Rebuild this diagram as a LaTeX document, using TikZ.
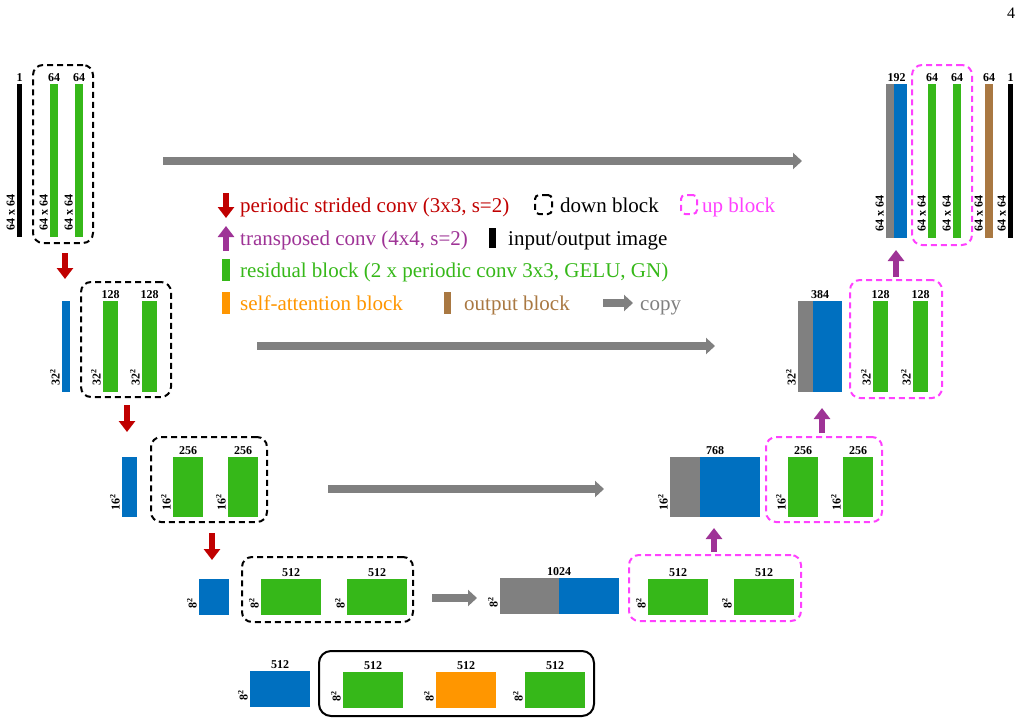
\documentclass[tikz,border=0pt]{standalone}
\usepackage{fontspec}
\setmainfont{Liberation Serif}
\usetikzlibrary{arrows.meta,fit}

\definecolor{cgreen}{HTML}{36B819}
\definecolor{cblue}{HTML}{0070C0}
\definecolor{cgray}{HTML}{808080}
\definecolor{cbrown}{HTML}{A97842}
\definecolor{corange}{HTML}{FF9600}
\definecolor{cmag}{HTML}{FF40FF}
\definecolor{cred}{HTML}{C00000}
\definecolor{cpurple}{HTML}{9E3396}

\tikzset{
 blk/.style={inner sep=0pt, outer sep=0pt, draw=none},
 num/.style={font=\fontsize{12}{13}\selectfont\bfseries, inner sep=0pt},
 dimlab/.style={num, rotate=90, anchor=south west},
 toplab/.style={num, anchor=base},
 downbox/.style={draw=black, dash pattern=on 6pt off 4pt, line width=2pt, rounded corners=10pt, inner sep=0pt},
 upbox/.style={downbox, draw=cmag},
 corebox/.style={draw=black, line width=2pt, rounded corners=12pt, inner sep=0pt},
 copyarrow/.style={draw=cgray, line width=8pt, -{Triangle[width=16pt,length=9pt]}},
 redarrow/.style={draw=cred, line width=6pt, -{Triangle[width=16pt,length=11pt]}},
 purparrow/.style={draw=cpurple, line width=6pt, -{Triangle[width=16pt,length=11pt]}},
 leg/.style={font=\fontsize{21}{24}\selectfont, anchor=base west, inner sep=0pt},
}
\newcommand\bk[6]{\node[blk, fill=#6, fit={(#2,#3) (#4,#5)}] (#1) {};}
\newcommand\tl[2]{\node[toplab] at ([yshift=3pt]#1.north) {#2};}
\newcommand\dl[2]{\node[dimlab] at ([xshift=-2pt,yshift=6pt]#1.south west) {#2};}

\begin{document}
\begin{tikzpicture}[x=1pt,y=-1pt]
\useasboundingbox (0,0) rectangle (1024,723);

\node[font=\fontsize{16}{18}\selectfont, anchor=base] (pg) at (1011,18) {4};

% ---------- encoder level 1 ----------
\bk{in}{17}{84}{22}{237}{black}
\bk{d1a}{50}{84}{58}{237}{cgreen}
\bk{d1b}{75}{84}{83}{237}{cgreen}
\node[downbox, fit={(33,65) (93,243)}] (D1) {};
\tl{in}{1}\tl{d1a}{64}\tl{d1b}{64}
\dl{in}{64 x 64}\dl{d1a}{64 x 64}\dl{d1b}{64 x 64}

% ---------- encoder level 2 ----------
\bk{b2}{62}{301}{70}{392}{cblue}
\bk{d2a}{103}{301}{118}{392}{cgreen}
\bk{d2b}{142}{301}{157}{392}{cgreen}
\node[downbox, fit={(81,282) (171,397)}] (D2) {};
\tl{d2a}{128}\tl{d2b}{128}
\dl{b2}{32\textsuperscript{2}}\dl{d2a}{32\textsuperscript{2}}\dl{d2b}{32\textsuperscript{2}}

% ---------- encoder level 3 ----------
\bk{b3}{122}{457}{137}{517}{cblue}
\bk{d3a}{173}{457}{203}{517}{cgreen}
\bk{d3b}{228}{457}{258}{517}{cgreen}
\node[downbox, fit={(151,437) (267,522)}] (D3) {};
\tl{d3a}{256}\tl{d3b}{256}
\dl{b3}{16\textsuperscript{2}}\dl{d3a}{16\textsuperscript{2}}\dl{d3b}{16\textsuperscript{2}}

% ---------- encoder level 4 ----------
\bk{b4}{199}{579}{229}{615}{cblue}
\bk{d4a}{261}{579}{321}{615}{cgreen}
\bk{d4b}{347}{579}{407}{615}{cgreen}
\node[downbox, fit={(242,557) (413,622)}] (D4) {};
\tl{d4a}{512}\tl{d4b}{512}
\dl{b4}{8\textsuperscript{2}}\dl{d4a}{8\textsuperscript{2}}\dl{d4b}{8\textsuperscript{2}}

% red down arrows
\coordinate (r1s) at (65,253); \coordinate (r1e) at (65,279);
\coordinate (r2s) at (127,405); \coordinate (r2e) at (127,432);
\coordinate (r3s) at (212,533); \coordinate (r3e) at (212,560);
\draw[redarrow] (r1s) -- (r1e);
\draw[redarrow] (r2s) -- (r2e);
\draw[redarrow] (r3s) -- (r3e);

% ---------- decoder level 4 ----------
\bk{c4g}{500}{578}{559}{614}{cgray}
\bk{c4b}{559}{578}{619}{614}{cblue}
\node[toplab] at ([yshift=3pt]c4g.north east) {1024};
\dl{c4g}{8\textsuperscript{2}}
\bk{u4a}{648}{579}{708}{615}{cgreen}
\bk{u4b}{734}{579}{794}{615}{cgreen}
\node[upbox, fit={(629,555) (801,621)}] (U4) {};
\tl{u4a}{512}\tl{u4b}{512}
\dl{u4a}{8\textsuperscript{2}}\dl{u4b}{8\textsuperscript{2}}

% ---------- decoder level 3 ----------
\bk{c3g}{670}{457}{700}{517}{cgray}
\bk{c3b}{700}{457}{760}{517}{cblue}
\node[toplab] at ([yshift=3pt,xshift=15pt]c3g.north east) {768};
\dl{c3g}{16\textsuperscript{2}}
\bk{u3a}{788}{457}{818}{517}{cgreen}
\bk{u3b}{843}{457}{873}{517}{cgreen}
\node[upbox, fit={(766,437) (882,522)}] (U3) {};
\tl{u3a}{256}\tl{u3b}{256}
\dl{u3a}{16\textsuperscript{2}}\dl{u3b}{16\textsuperscript{2}}

% ---------- decoder level 2 ----------
\bk{c2g}{798}{301}{813}{392}{cgray}
\bk{c2b}{813}{301}{842}{392}{cblue}
\node[toplab] at ([yshift=3pt,xshift=7pt]c2g.north east) {384};
\dl{c2g}{32\textsuperscript{2}}
\bk{u2a}{873}{301}{888}{392}{cgreen}
\bk{u2b}{913}{301}{928}{392}{cgreen}
\node[upbox, fit={(850,280) (942,398)}] (U2) {};
\tl{u2a}{128}\tl{u2b}{128}
\dl{u2a}{32\textsuperscript{2}}\dl{u2b}{32\textsuperscript{2}}

% ---------- decoder level 1 ----------
\bk{c1g}{886}{84}{894}{238}{cgray}
\bk{c1b}{894}{84}{907}{238}{cblue}
\node[toplab] at ([yshift=3pt,xshift=2.5pt]c1g.north east) {192};
\dl{c1g}{64 x 64}
\bk{u1a}{928}{84}{936}{238}{cgreen}
\bk{u1b}{953}{84}{961}{238}{cgreen}
\node[upbox, fit={(912,65) (972,245)}] (U1) {};
\tl{u1a}{64}\tl{u1b}{64}
\dl{u1a}{64 x 64}\dl{u1b}{64 x 64}
\bk{ob}{985}{84}{993}{238}{cbrown}
\bk{out}{1008}{84}{1013}{238}{black}
\tl{ob}{64}\tl{out}{1}
\dl{ob}{64 x 64}\dl{out}{64 x 64}

% purple up arrows
\coordinate (p4s) at (714,552); \coordinate (p4e) at (714,528);
\coordinate (p3s) at (822,433); \coordinate (p3e) at (822,408);
\coordinate (p2s) at (896,277); \coordinate (p2e) at (896,250);
\draw[purparrow] (p4s) -- (p4e);
\draw[purparrow] (p3s) -- (p3e);
\draw[purparrow] (p2s) -- (p2e);

% copy arrows
\coordinate (k1s) at (163,161); \coordinate (k1e) at (802,161);
\coordinate (k2s) at (257,346); \coordinate (k2e) at (715,346);
\coordinate (k3s) at (328,489); \coordinate (k3e) at (604,489);
\coordinate (k4s) at (432,598); \coordinate (k4e) at (477,598);
\draw[copyarrow] (k1s) -- (k1e);
\draw[copyarrow] (k2s) -- (k2e);
\draw[copyarrow] (k3s) -- (k3e);
\draw[copyarrow] (k4s) -- (k4e);

% ---------- bottom: middle block ----------
\bk{mb}{250}{671}{310}{707}{cblue}
\bk{m1}{343}{672}{403}{708}{cgreen}
\bk{m2}{436}{672}{496}{708}{corange}
\bk{m3}{525}{672}{585}{708}{cgreen}
\node[corebox, fit={(319,651) (594,716)}] (MB) {};
\tl{mb}{512}\tl{m1}{512}\tl{m2}{512}\tl{m3}{512}
\dl{mb}{8\textsuperscript{2}}\dl{m1}{8\textsuperscript{2}}\dl{m2}{8\textsuperscript{2}}\dl{m3}{8\textsuperscript{2}}

% ---------- legend ----------
\coordinate (lr1) at (226,193); \coordinate (lr2) at (226,218);
\draw[redarrow] (lr1) -- (lr2);
\node[leg, text=cred] (t1) at (240,212) {periodic strided conv (3x3, s=2)};
\node[downbox, rounded corners=4pt, fit={(535,195) (552,214)}] (lgd) {};
\node[leg] (t2) at (560,212) {down block};
\node[upbox, rounded corners=4pt, fit={(681,195) (697,214)}] (lgu) {};
\node[leg, text=cmag] (t3) at (702,212) {up block};

\coordinate (lp1) at (226,251); \coordinate (lp2) at (226,226);
\draw[purparrow] (lp1) -- (lp2);
\node[leg, text=cpurple] (t4) at (240,245) {transposed conv (4x4, s=2)};
\bk{lio}{489}{228}{496}{248}{black}
\node[leg] (t5) at (508,245) {input/output image};

\bk{lg}{222}{259}{230}{281}{cgreen}
\node[leg, text=cgreen] (t6) at (240,277) {residual block (2 x periodic conv 3x3, GELU, GN)};

\bk{lo}{222}{292}{230}{314}{corange}
\node[leg, text=corange] (t7) at (240,310) {self-attention block};
\bk{lb}{444}{292}{451}{314}{cbrown}
\node[leg, text=cbrown] (t8) at (464,310) {output block};
\coordinate (lc1) at (603,303); \coordinate (lc2) at (633,303);
\draw[copyarrow] (lc1) -- (lc2);
\node[leg, text=cgray] (t9) at (640,310) {copy};
\end{tikzpicture}
\end{document}
